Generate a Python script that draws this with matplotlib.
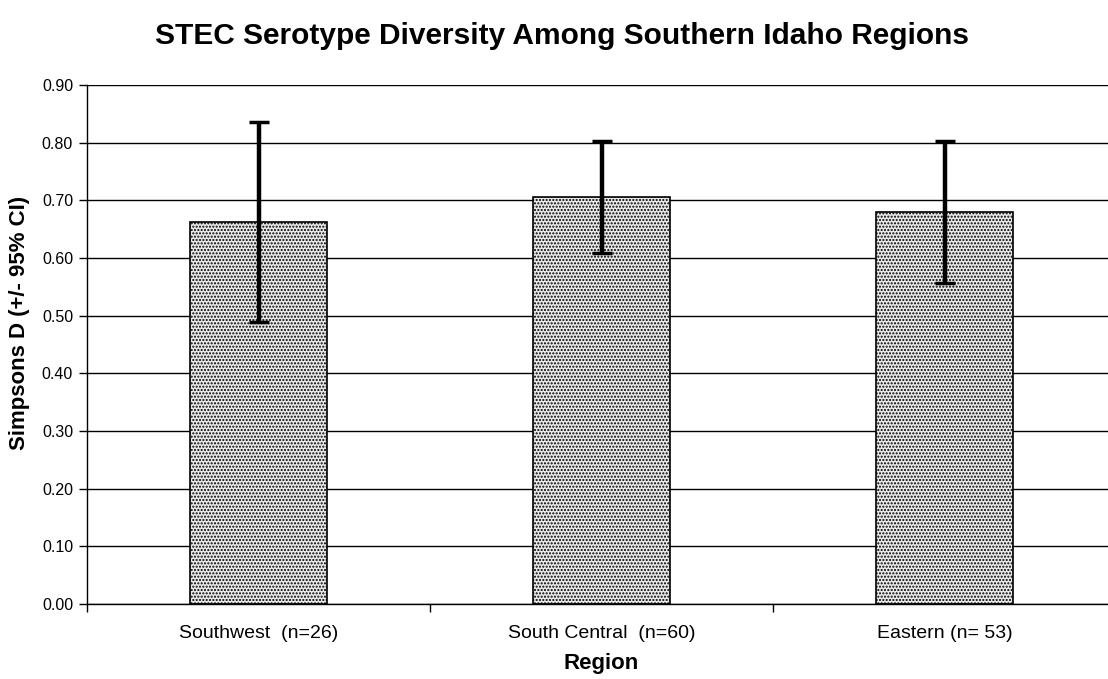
import matplotlib
matplotlib.use("Agg")
import matplotlib.pyplot as plt
import numpy as np

categories = ["Southwest  (n=26)", "South Central  (n=60)", "Eastern (n= 53)"]
values = [0.662, 0.706, 0.680]
ci = [0.173, 0.097, 0.123]
yticks = [0.0, 0.1, 0.2, 0.3, 0.4, 0.5, 0.6, 0.7, 0.8, 0.9]

plt.rcParams['font.family'] = ['Liberation Sans', 'DejaVu Sans']
plt.rcParams['hatch.color'] = '#8c8c8c'
plt.rcParams['hatch.linewidth'] = 1.0

fig = plt.figure(figsize=(11.08, 6.79), dpi=100)
ax = fig.add_axes([87/1108, 75/679, (1116-87)/1108, (604-85)/679])

x = np.arange(len(categories))
ax.set_axisbelow(True)
ax.yaxis.grid(True, color='black', linewidth=1)
ax.bar(x, values, width=0.40, facecolor='#e8e8e8', edgecolor='black', linewidth=1.2,
       hatch='.....', zorder=2)
ax.errorbar(x, values, yerr=ci, fmt='none', ecolor='black', elinewidth=3.2,
            capsize=7, capthick=2.5, zorder=3)

ax.set_xlim(-0.5, 2.5)
ax.set_ylim(0, 0.9)
ax.set_yticks(yticks)
ax.set_yticklabels([f"{v:.2f}" for v in yticks], fontsize=11.5)
ax.set_xticks(x)
ax.set_xticklabels(categories, fontsize=14)
ax.tick_params(axis='x', which='major', length=0, pad=15)
ax.set_xticks([-0.5, 0.5, 1.5, 2.5], minor=True)
ax.tick_params(axis='x', which='minor', length=6, width=1, direction='out')
ax.tick_params(axis='y', length=6, width=1, direction='out', pad=4)

for s in ['top', 'right']:
    ax.spines[s].set_visible(False)
for s in ['left', 'bottom']:
    ax.spines[s].set_linewidth(1)

fig.text(20/1108, 1 - 323/679, "Simpsons D (+/- 95% CI)", rotation=90, ha='center', va='center',
         fontsize=16, fontweight='bold')
fig.text(601/1108, 1 - 664/679, "Region", ha='center', va='center', fontsize=16, fontweight='bold')
fig.text(0.507, 1 - 36/679, "STEC Serotype Diversity Among Southern Idaho Regions",
         ha='center', va='center', fontsize=21.5, fontweight='bold')

fig.savefig("out.png", dpi=100)
